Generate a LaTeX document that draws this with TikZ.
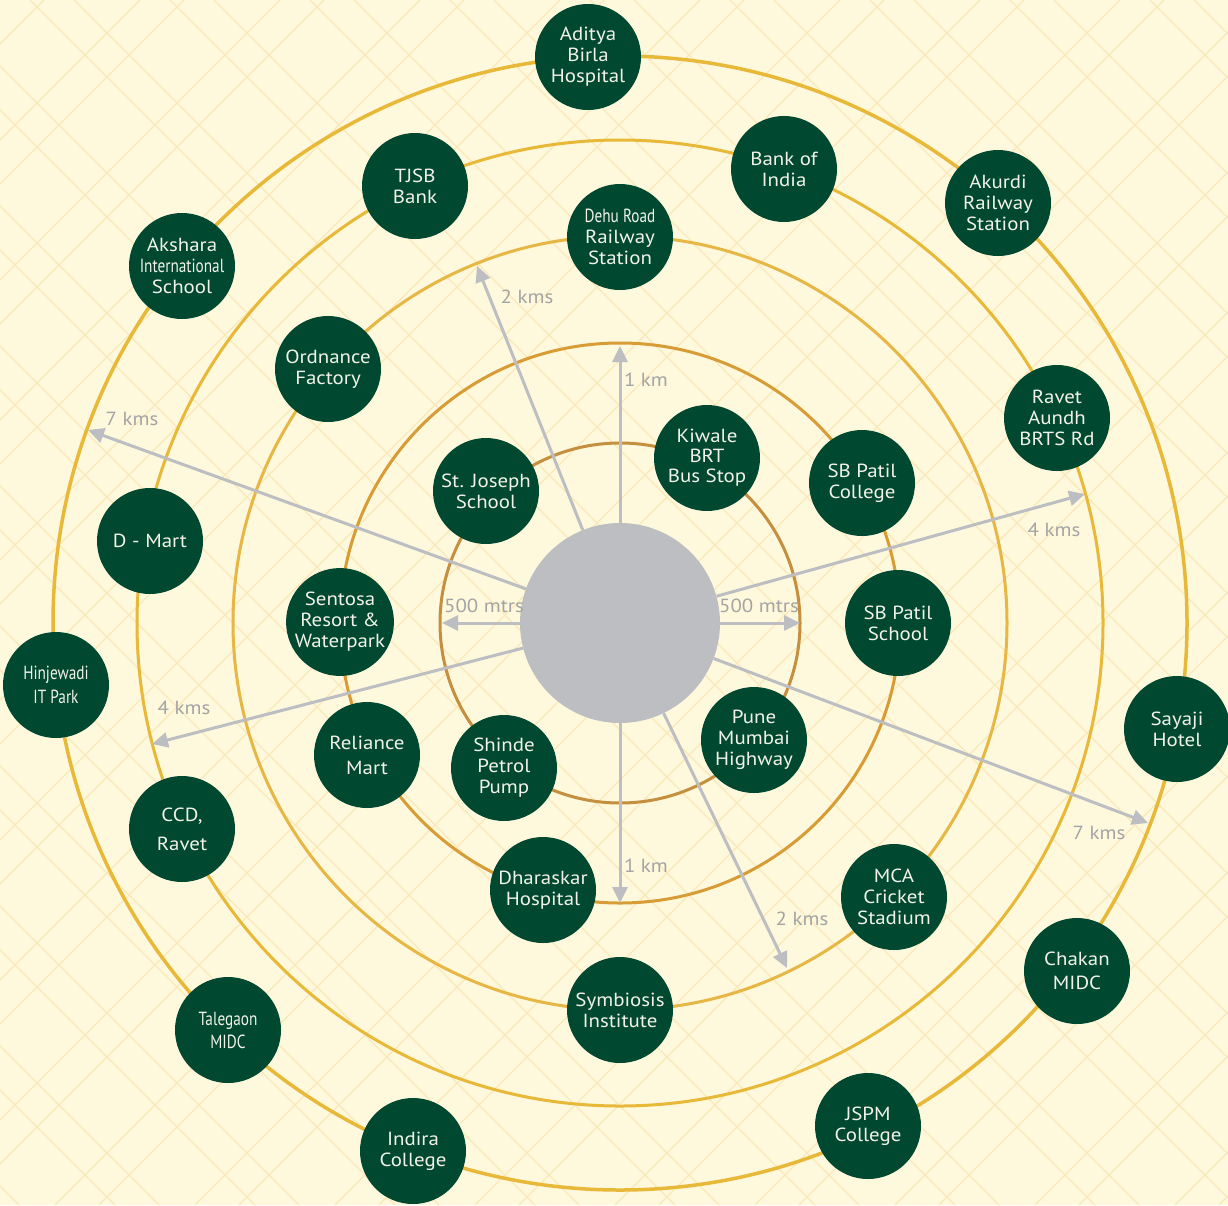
\documentclass[tikz,border=0pt]{standalone}
\usepackage{fontspec}
\setmainfont{PT Sans}[FakeStretch=1.1]
\usepackage{graphicx}
\usetikzlibrary{arrows.meta}
\definecolor{bg}{HTML}{FEF8DC}
\definecolor{lat}{HTML}{FAE8B8}
\definecolor{grn}{HTML}{004830}
\definecolor{gry}{HTML}{BDBEC2}
\definecolor{lbl}{HTML}{A4A4A4}
\definecolor{ringa}{HTML}{C48F3E}
\definecolor{ringb}{HTML}{D79C36}
\definecolor{ringc}{HTML}{E6B745}
\definecolor{ringd}{HTML}{E8B838}
\definecolor{txt}{HTML}{F2F2EA}
\newcommand\cond[1]{\scalebox{0.73}[1]{#1}}
\begin{document}
\begin{tikzpicture}[x=1pt,y=-1pt,
 place/.style={circle,fill=grn,minimum size=106pt,inner sep=0pt,text=txt,align=center,font=\fontsize{19}{21}\selectfont},
 ring/.style={line width=3pt},
 arr/.style={draw=gry,line width=3pt,-{Triangle[length=16pt,width=15pt]}},
 dist/.style={text=lbl,font=\fontsize{19}{20}\selectfont,inner sep=0pt},
 latline/.style={draw=lat,line width=1.3pt}]
\useasboundingbox (0,0) rectangle (1228,1205);
\clip (0,0) rectangle (1228,1205);
\fill[bg] (0,0) rectangle (1228,1205);
% background lattice
\foreach \k in {0,...,17}{
  \foreach \d in {0,44}{
    \pgfmathsetmacro\c{140*\k+\d}
    \draw[latline] (\c,0) -- ({\c-1205},1205);
    \pgfmathsetmacro\e{140*\k+\d-1230}
    \draw[latline] (\e,0) -- ({\e+1205},1205);
  }
}
% rings
\coordinate (o) at (620,623);
\draw[ringa,ring] (o) circle[radius=180pt];
\draw[ringb,ring] (o) circle[radius=280pt];
\draw[ringc,ring] (o) circle[radius=387pt];
\draw[ringd,ring] (o) circle[radius=483pt];
\draw[ringd,line width=3.5pt] (o) circle[radius=567pt];
% centre
\node[circle,fill=gry,minimum size=200pt,inner sep=0pt] (c) at (o) {};
% arrow tips
\coordinate (tup) at (620,346);
\coordinate (tdn) at (620,903);
\coordinate (tl) at (442,623);
\coordinate (tr) at (800,623);
\coordinate (tula) at (477,266);
\coordinate (tdrb) at (787,968);
\coordinate (tls) at (88,430);
\coordinate (trs) at (1148,823);
\coordinate (trf) at (1085,494);
\coordinate (tlf) at (152,744);
\foreach \t in {tup,tdn,tl,tr,tula,tdrb,tls,trs,trf,tlf}{\draw[arr] (c) -- (\t);}
% distance labels
\node[dist] (l1) at (527,297) {2 kms};
\node[dist] (l2) at (646,380) {1 km};
\node[dist] (l3) at (132,419) {7 kms};
\node[dist] (l4) at (1054,530) {4 kms};
\node[dist] (l5) at (484,606) {500 mtrs};
\node[dist] (l6) at (759,606) {500 mtrs};
\node[dist] (l7) at (184,708) {4 kms};
\node[dist] (l8) at (1099,833) {7 kms};
\node[dist] (l9) at (646,866) {1 km};
\node[dist] (l10) at (802,919) {2 kms};
% places
\node[place] (p1) at (588,57) {Aditya\\Birla\\Hospital};
\node[place] (p2) at (784,169) {Bank of\\India};
\node[place] (p3) at (998,203) {Akurdi\\Railway\\Station};
\node[place] (p4) at (415,186) {TJSB\\Bank};
\node[place] (p5) at (182,266) {Akshara\\\cond{International}\\School};
\node[place] (p6) at (620,237) {\cond{Dehu Road}\\Railway\\Station};
\node[place] (p7) at (328,369) {Ordnance\\Factory};
\node[place] (p8) at (1057,418) {Ravet\\Aundh\\BRTS Rd};
\node[place,font=\fontsize{19}{20}\selectfont] (p9) at (707,458) {Kiwale\\BRT\\Bus Stop};
\node[place] (p10) at (862,483) {SB Patil\\College};
\node[place] (p11) at (486,491) {St. Joseph\\School};
\node[place] (p12) at (150,541) {D - Mart};
\node[place] (p13) at (340,622) {Sentosa\\Resort \&\\Waterpark};
\node[place] (p14) at (898,623) {SB Patil\\School};
\node[place,font=\fontsize{19}{24}\selectfont] (p15) at (56,685) {\cond{Hinjewadi}\\\cond{IT Park}};
\node[place] (p16) at (1177,729) {Sayaji\\Hotel};
\node[place,font=\fontsize{19}{25}\selectfont] (p17) at (367,755) {Reliance\\Mart};
\node[place] (p18) at (504,768) {Shinde\\Petrol\\Pump};
\node[place] (p19) at (754,740) {Pune\\Mumbai\\Highway};
\node[place,font=\fontsize{19}{29}\selectfont] (p20) at (182,829) {CCD,\\Ravet};
\node[place] (p21) at (543,890) {Dharaskar\\Hospital};
\node[place] (p22) at (894,897) {MCA\\Cricket\\Stadium};
\node[place,font=\fontsize{19}{24}\selectfont] (p23) at (1077,971) {Chakan\\MIDC};
\node[place] (p24) at (620,1010) {Symbiosis\\Institute};
\node[place,font=\fontsize{19}{23}\selectfont] (p25) at (228,1030) {\cond{Talegaon}\\\cond{MIDC}};
\node[place] (p26) at (868,1126) {JSPM\\College};
\node[place] (p27) at (413,1151) {Indira\\College};
\end{tikzpicture}
\end{document}
